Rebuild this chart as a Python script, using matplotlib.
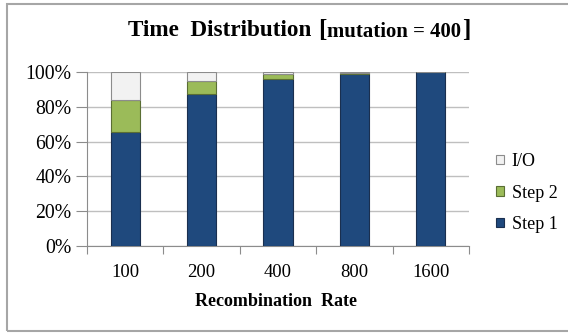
import matplotlib.pyplot as plt
import numpy as np
from matplotlib.patches import Rectangle

# data (percent of total time)
rates = ['100', '200', '400', '800', '1600']
step1 = [65.4, 87.2, 95.8, 99.1, 99.8]
step2 = [18.4, 7.9, 3.1, 0.6, 0.1]
io = [100 - a - b for a, b in zip(step1, step2)]

c_step1 = '#1f497d'
c_step2 = '#9bbb59'
c_io = '#f2f2f2'

plt.rcParams['font.family'] = ['Liberation Serif', 'DejaVu Serif']

W, H = 568, 333
fig = plt.figure(figsize=(W / 100, H / 100), dpi=100)
ax = fig.add_axes([87 / W, 1 - 246 / H, (469 - 87) / W, (246 - 72) / H])

x = np.arange(len(rates))
bw = 0.38
ax.bar(x, step1, bw, color=c_step1, edgecolor='#1a2f4f', lw=0.8, label='Step 1', zorder=3)
ax.bar(x, step2, bw, bottom=step1, color=c_step2, edgecolor='#5a6e34', lw=0.8, label='Step 2', zorder=3)
ax.bar(x, io, bw, bottom=np.add(step1, step2), color=c_io, edgecolor='#8c8c8c', lw=0.8, label='I/O', zorder=3)

ax.set_xlim(-0.5, len(rates) - 0.5)
ax.set_ylim(0, 100)
ax.set_yticks(np.arange(0, 101, 20))
ax.set_yticklabels([f'{v}%' for v in range(0, 101, 20)], fontsize=14.2)
ax.set_xticks(x)
ax.set_xticklabels(rates, fontsize=13.4)
ax.set_xticks(np.arange(-0.5, len(rates), 1), minor=True)
ax.tick_params(axis='x', which='major', length=0, pad=13)
ax.tick_params(axis='x', which='minor', length=6, color='#8c8c8c', width=0.8)
ax.tick_params(axis='y', length=8, color='#8c8c8c', width=0.8, pad=3)
ax.grid(axis='y', color='#bfbfbf', lw=1, zorder=0)
for s in ['top', 'right']:
    ax.spines[s].set_visible(False)
for s in ['left', 'bottom']:
    ax.spines[s].set_color('#8c8c8c')
    ax.spines[s].set_linewidth(0.8)

handles, labels = ax.get_legend_handles_labels()
leg = fig.legend(handles[::-1], labels[::-1], loc='center left', bbox_to_anchor=(496 / W, 1 - 193 / H),
                 frameon=False, fontsize=13, handlelength=0.42, handleheight=0.42,
                 handletextpad=0.45, labelspacing=0.8, borderpad=0, borderaxespad=0)

# title and axis label, each fitted to the width it takes in the original
fig.canvas.draw()
r = fig.canvas.get_renderer()


def fitted(x0, x1, yc, s, ref=10):
    t = fig.text(x0 / W, 1 - yc / H, s, fontsize=ref, fontweight='bold', va='center')
    w = t.get_window_extent(r).width
    t.set_fontsize(ref * (x1 - x0) / w)
    return t


fitted(128, 312, 30, 'Time  Distribution')
fig.text(318 / W, 1 - 31 / H, '[', fontsize=18, fontweight='bold', va='center')
fitted(327, 461, 32, 'mutation = 400')
fig.text(462 / W, 1 - 31 / H, ']', fontsize=18, fontweight='bold', va='center')
fitted(195, 357, 301, 'Recombination  Rate')

# outer chart border
fig.patches.append(Rectangle((7 / W, 2 / H), 1, 1 - 6 / H, transform=fig.transFigure,
                             fill=False, edgecolor='#a6a6a6', lw=1.5))

fig.savefig('out.png', dpi=100)
